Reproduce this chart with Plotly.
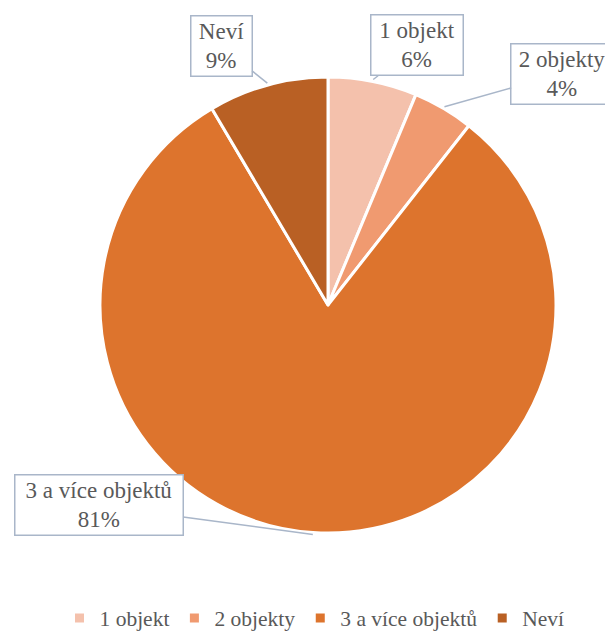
import math
import plotly.graph_objects as go

# data
labels = ["1 objekt", "2 objekty", "3 a více objektů", "Neví"]
values = [6.3, 4.3, 80.9, 8.5]
pct_text = ["6%", "4%", "81%", "9%"]
colors = ["#F4C1AC", "#F09A70", "#DD742D", "#B96024"]

W, H = 613, 635
off = 8  # page body margin
cx, cy, R = 328 - off, 305 - off, 228
serif = "Liberation Serif"

fig = go.Figure(go.Pie(
    labels=labels,
    values=values,
    sort=False,
    direction="clockwise",
    rotation=0,
    textinfo="none",
    hoverinfo="label+percent",
    marker=dict(colors=colors, line=dict(color="white", width=3)),
    domain=dict(x=[(cx - R) / W, (cx + R) / W], y=[1 - (cy + R) / H, 1 - (cy - R) / H]),
))

# callout boxes: offset of box centre from the slice edge, box width
boxes = [
    dict(ax=44, ay=-34, w=94),
    dict(ax=118, ay=-33, w=104),
    dict(ax=-214, ay=-29, w=170),
    dict(ax=-46, ay=-37, w=63),
]

total = sum(values)
cum = 0
annotations = []
for lab, v, p, b in zip(labels, values, pct_text, boxes):
    mid = (cum + v / 2) / total * 2 * math.pi
    cum += v
    px = cx + (R + 2) * math.sin(mid)
    py = cy - (R + 2) * math.cos(mid)
    annotations.append(dict(
        x=px / W, y=1 - py / H, xref="paper", yref="paper",
        text=lab + "<br>" + p,
        showarrow=True, arrowhead=0, arrowwidth=1.5, arrowcolor="#A9B6C9",
        ax=b["ax"], ay=b["ay"], standoff=0,
        width=b["w"] - 7, borderpad=2,
        bordercolor="#A9B6C9", borderwidth=1.5, bgcolor="white",
        font=dict(family=serif, size=23, color="#595959"),
    ))

fig.update_layout(
    width=W, height=H,
    margin=dict(l=0, r=0, t=0, b=0),
    paper_bgcolor="white",
    annotations=annotations,
    font=dict(family=serif, color="#595959"),
    legend=dict(orientation="h", x=0.5, xanchor="center", y=(H - 618 + off) / H, yanchor="middle",
                font=dict(family=serif, size=21.5, color="#595959")),
)

fig.write_html("out.html")
